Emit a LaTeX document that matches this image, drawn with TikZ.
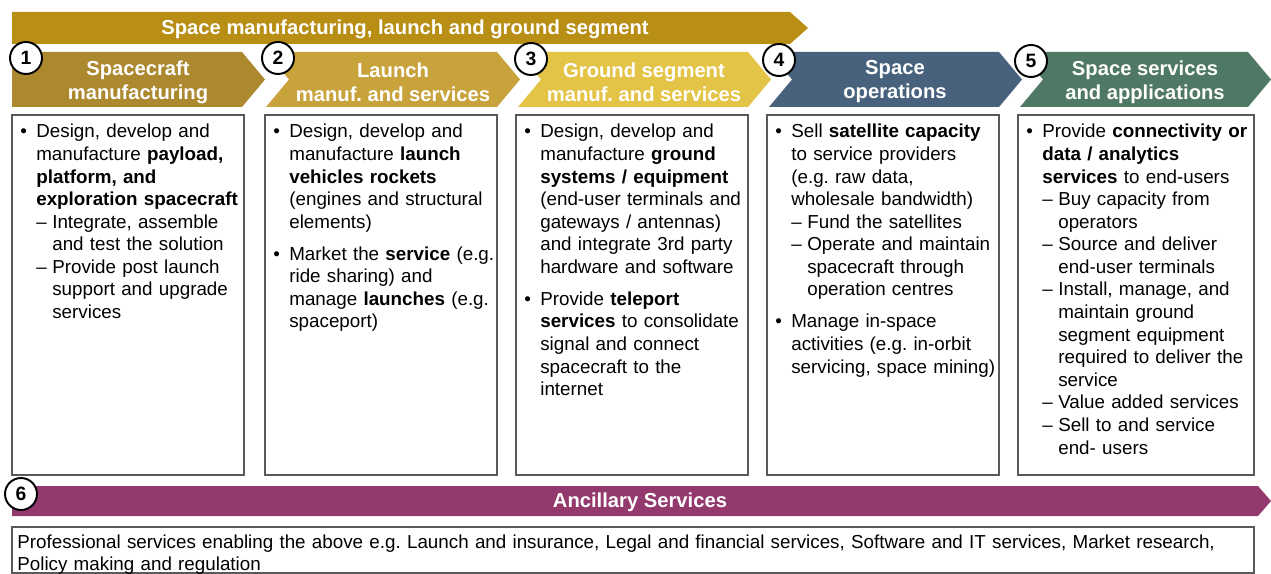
\documentclass[tikz,border=0pt]{standalone}
\usepackage{fontspec}
\setmainfont{Liberation Sans}
\frenchspacing

\definecolor{bandgold}{HTML}{B88E14}
\definecolor{chevA}{HTML}{AC882F}
\definecolor{chevB}{HTML}{C8A33C}
\definecolor{chevC}{HTML}{E4C446}
\definecolor{chevD}{HTML}{48627D}
\definecolor{chevE}{HTML}{4F7964}
\definecolor{ancpurple}{HTML}{94396E}

% bullet and dash items with hanging indent
\newcommand{\bitem}[1]{\par\noindent\hangindent=9.1pt\hangafter=1\makebox[9.1pt][l]{\textbullet}#1}
\newcommand{\ditem}[1]{\par\noindent\hangindent=18.2pt\hangafter=1\hspace*{9.1pt}\makebox[9.1pt][l]{--}#1}
\newcommand{\bgap}{\par\vspace{5.3pt}}

\begin{document}
\begin{tikzpicture}[x=0.02cm,y=-0.02cm,
  headtxt/.style={text=white,font=\fontsize{11.5}{13.7}\selectfont\bfseries,align=center},
  numdot/.style={circle,draw=black,line width=1.1pt,fill=white,minimum size=0.64cm,inner sep=0pt,font=\fontsize{11}{13}\selectfont\bfseries},
  bodytxt/.style={anchor=north west,inner xsep=0.16cm,inner ysep=0pt,text width=4.5cm,align=left,font=\fontsize{10.7}{12.85}\selectfont},
  frame/.style={draw=black!65,line width=0.6pt}]
\useasboundingbox (0,0) rectangle (1271,574);

% top band
\fill[bandgold] (12,12) -- (790,12) -- (808,28) -- (790,44) -- (12,44) -- cycle;
\node[headtxt] (band) at (405,29.5) {Space manufacturing, launch and ground segment};

% value chain
\fill[chevA] (12,52) -- (242,52) -- (265,79.5) -- (242,107) -- (12,107) -- cycle;
\fill[chevB] (266,52) -- (497,52) -- (520,79.5) -- (497,107) -- (266,107) -- (289,79.5) -- cycle;
\fill[chevC] (518,52) -- (748,52) -- (771,79.5) -- (748,107) -- (518,107) -- (541,79.5) -- cycle;
\fill[chevD] (769,52) -- (999,52) -- (1022,79.5) -- (999,107) -- (769,107) -- (792,79.5) -- cycle;
\fill[chevE] (1020,52) -- (1248,52) -- (1271,79.5) -- (1248,107) -- (1020,107) -- (1043,79.5) -- cycle;
\node[headtxt] (h1) at (138,82) {Spacecraft\\manufacturing};
\node[headtxt] (h2) at (393,82) {Launch\\manuf. and services};
\node[headtxt] (h3) at (644,82) {Ground segment\\manuf. and services};
\node[headtxt] (h4) at (895,82) {Space\\operations};
\node[headtxt] (h5) at (1145,82) {Space services\\and applications};

\node[numdot] (n1) at (26,58) {1};
\node[numdot] (n2) at (278,58) {2};
\node[numdot] (n3) at (531,59) {3};
\node[numdot] (n4) at (779,60) {4};
\node[numdot] (n5) at (1031,61) {5};

% columns
\draw[frame] (12,115) rectangle (244,475);
\draw[frame] (265,115) rectangle (497,475);
\draw[frame] (516,115) rectangle (748,475);
\draw[frame] (767,115) rectangle (999,475);
\draw[frame] (1018,115) rectangle (1254,475);

\node[bodytxt] (t1) at (12,115) {%
\bitem{Design, develop and\newline manufacture \textbf{payload,}\newline \textbf{platform, and}\newline \textbf{exploration spacecraft}}
\ditem{Integrate, assemble\newline and test the solution}
\ditem{Provide post launch\newline support and upgrade\newline services}\par};

\node[bodytxt] (t2) at (265,115) {%
\bitem{Design, develop and\newline manufacture \textbf{launch}\newline \textbf{vehicles rockets}\newline (engines and structural\newline elements)}\bgap
\bitem{Market the \textbf{service} (e.g.\newline ride sharing) and\newline manage \textbf{launches} (e.g.\newline spaceport)}\par};

\node[bodytxt] (t3) at (516,115) {%
\bitem{Design, develop and\newline manufacture \textbf{ground}\newline \textbf{systems / equipment}\newline (end-user terminals and\newline gateways / antennas)\newline and integrate 3rd party\newline hardware and software}\bgap
\bitem{Provide \textbf{teleport}\newline \textbf{services} to consolidate\newline signal and connect\newline spacecraft to the\newline internet}\par};

\node[bodytxt] (t4) at (767,115) {%
\bitem{Sell \textbf{satellite capacity}\newline to service providers\newline (e.g. raw data,\newline wholesale bandwidth)}
\ditem{Fund the satellites}
\ditem{Operate and maintain\newline spacecraft through\newline operation centres}\bgap
\bitem{Manage in-space\newline activities (e.g. in-orbit\newline servicing, space mining)}\par};

\node[bodytxt] (t5) at (1018,115) {%
\bitem{Provide \textbf{connectivity or}\newline \textbf{data / analytics}\newline \textbf{services} to end-users}
\ditem{Buy capacity from\newline operators}
\ditem{Source and deliver\newline end-user terminals}
\ditem{Install, manage, and\newline maintain ground\newline segment equipment\newline required to deliver the\newline service}
\ditem{Value added services}
\ditem{Sell to and service\newline end- users}\par};

% ancillary services
\fill[ancpurple] (12,486) -- (1258,486) -- (1271,501) -- (1258,516) -- (12,516) -- cycle;
\node[headtxt] (h6) at (640,502) {Ancillary Services};
\node[numdot] (n6) at (21,494) {6};

\draw[frame] (12,527) rectangle (1254,573);
\node[anchor=north west,inner xsep=0.1cm,inner ysep=0.16cm,text width=24.6cm,align=left,font=\fontsize{10.7}{12}\selectfont] (t6) at (12,527)
  {Professional services enabling the above e.g. Launch and insurance, Legal and financial services, Software and IT services, Market research,\\Policy making and regulation};
\end{tikzpicture}
\end{document}
